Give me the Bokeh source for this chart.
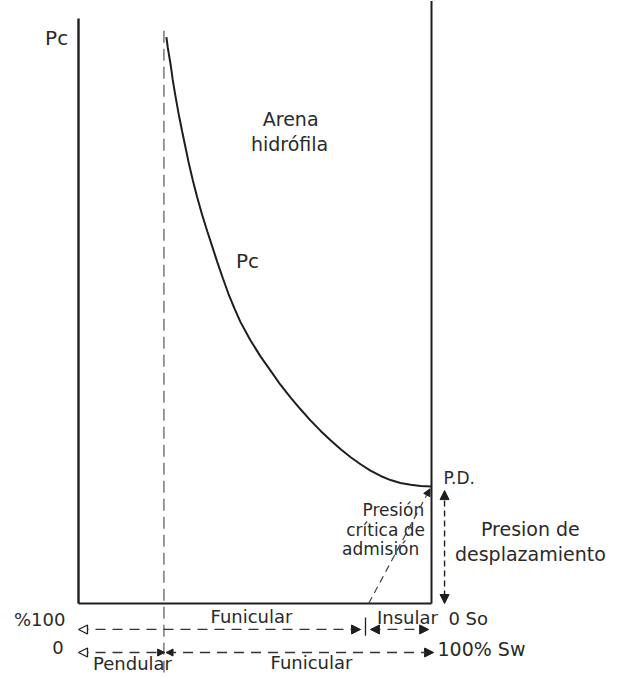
from bokeh.plotting import figure
from bokeh.models import Range1d, Arrow, NormalHead
from bokeh.core.properties import value
from bokeh.embed import file_html
from bokeh.resources import INLINE

# ---- data (Sw in %, Pc in arbitrary units) ----
sw_curve = [24.9, 25.3, 26.1, 26.7, 27.5, 28.4, 29.4, 30.3, 31.2, 32.4,
            33.6, 35.0, 36.5, 37.9, 39.3, 40.9, 42.5, 44.2, 45.9, 48.7,
            51.6, 54.4, 57.2, 60.1, 62.9, 65.7, 68.6, 71.4, 74.2, 77.1,
            79.9, 82.7, 85.6, 88.4, 91.2, 94.1, 96.9, 100.0]
pc_curve = [96.8, 95.0, 92.1, 89.5, 86.6, 83.6, 80.6, 78.0, 75.4, 72.3,
            69.5, 66.5, 63.6, 61.0, 58.4, 55.6, 52.9, 50.4, 48.1, 45.0,
            42.2, 39.8, 37.4, 35.2, 33.2, 31.3, 29.5, 27.9, 26.4, 25.0,
            23.8, 22.7, 21.8, 21.1, 20.6, 20.3, 20.1, 20.0]

sw_irreducible = 24.6      # Pendular / Funicular limit
sw_insular = 81.3          # Funicular / Insular limit (So scale)
sw_critical = 82.2         # critical admission pressure foot
pd_value = 20.0            # displacement pressure
pc_axis_top = 100.0
right_top = 103.0

# ---- layout helpers ----
PX_X = 3.53
PX_Y = 5.85
W, H = 620, 673
row_so = -4.44
row_sw = -8.38

p = figure(width=W, height=H, output_backend="svg", toolbar_location=None,
           x_range=Range1d(-78 / PX_X, (W - 78) / PX_X),
           y_range=Range1d((603 - H) / PX_Y, 603 / PX_Y),
           x_axis_type=None, y_axis_type=None, min_border=0)
p.outline_line_color = None
p.background_fill_color = "white"

INK = "#1e1e1e"
TXT = "#2a2a2a"

# frame lines
p.line([0, 0], [0, pc_axis_top], line_color=INK, line_width=2.4)
p.line([100, 100], [0, right_top], line_color=INK, line_width=2.0)
p.line([0, 100], [0, 0], line_color=INK, line_width=2.2)

# irreducible saturation dashed vertical
p.line([sw_irreducible - 0.4, sw_irreducible - 0.4], [97.9, -11.8],
       line_color="#555555", line_width=1.2, line_dash="12 6")

# Pc curve
p.line(sw_curve, pc_curve, line_color=INK, line_width=2.0)

# critical admission pressure dashed line
p.add_layout(Arrow(x_start=sw_critical, y_start=0, x_end=99.6, y_end=pd_value - 0.4,
                   line_color="#444444", line_width=1.2, line_dash="7 5",
                   end=NormalHead(size=7, fill_color=INK, line_color=INK)))

# displacement pressure double arrow
p.add_layout(Arrow(x_start=103.7, y_start=pd_value - 0.7, x_end=103.7, y_end=0,
                   line_color=INK, line_width=1.4, line_dash="6 4",
                   start=NormalHead(size=9, fill_color=INK, line_color=INK),
                   end=NormalHead(size=9, fill_color=INK, line_color=INK)))

# So row
p.add_layout(Arrow(x_start=0, y_start=row_so, x_end=sw_insular - 1.4, y_end=row_so,
                   line_color="#333333", line_width=1.3, line_dash="10 7",
                   start=NormalHead(size=9, fill_color="white", line_color=INK, line_width=1.3),
                   end=NormalHead(size=9, fill_color=INK, line_color=INK)))
p.line([sw_insular, sw_insular], [-2.4, -5.5], line_color=INK, line_width=1.3)
p.add_layout(Arrow(x_start=sw_insular + 1.4, y_start=row_so, x_end=99.2, y_end=row_so,
                   line_color="#333333", line_width=1.3, line_dash="10 7",
                   start=NormalHead(size=9, fill_color=INK, line_color=INK),
                   end=NormalHead(size=9, fill_color=INK, line_color=INK)))

# Sw row
p.add_layout(Arrow(x_start=0, y_start=row_sw, x_end=sw_irreducible - 0.2, y_end=row_sw,
                   line_color="#333333", line_width=1.3, line_dash="10 7",
                   start=NormalHead(size=9, fill_color="white", line_color=INK, line_width=1.3),
                   end=NormalHead(size=7, fill_color=INK, line_color=INK)))
p.add_layout(Arrow(x_start=sw_irreducible + 0.2, y_start=row_sw, x_end=100.6, y_end=row_sw,
                   line_color="#333333", line_width=1.3, line_dash="10 7",
                   start=NormalHead(size=7, fill_color=INK, line_color=INK),
                   end=NormalHead(size=9, fill_color=INK, line_color=INK)))

# ---- texts ----
def txt(xs, ys, texts, size, align="center"):
    p.text(x=xs, y=ys, text=texts, text_font=value("DejaVu Sans"),
           text_font_size=value(size), text_align=align, text_baseline="middle",
           text_color=TXT)

txt([-6.2, 47.9], [96.6, 58.6], ["Pc", "Pc"], "20px")
txt([60.1, 59.8], [82.9, 78.6], ["Arena", "hidrófila"], "19px")
txt([89.2, 87.0, 85.6], [15.9, 12.5, 9.4], ["Presión", "crítica de", "admisión"], "17px")
txt([103.4], [21.4], ["P.D."], "17px", "left")
txt([128.0, 128.0], [12.8, 8.5], ["Presion de", "desplazamiento"], "19px")
txt([-3.7], [-2.7], ["%100"], "18px", "right")
txt([-5.8], [-7.5], ["0"], "18px")
txt([49.0, 93.2], [-2.2, -2.4], ["Funicular", "Insular"], "18px")
txt([104.8], [-2.6], ["0 So"], "18px", "left")
txt([101.7], [-7.7], ["100% Sw"], "19px", "left")
txt([15.3, 66.0], [-10.25, -10.15], ["Pendular", "Funicular"], "18px")

open("out.html", "w").write(file_html(p, INLINE))
